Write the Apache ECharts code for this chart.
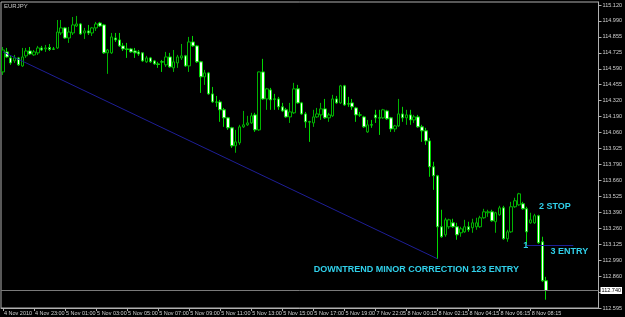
<!DOCTYPE html>
<html><head><meta charset="utf-8">
<script src="https://cdn.jsdelivr.net/npm/echarts@6/dist/echarts.min.js"></script>
<style>html,body{margin:0;padding:0;background:#000;}#c{width:625px;height:317px;}</style>
</head><body><div id="c"></div>
<script>
const symbolName = 'EURJPY';
const xTickLabels = ['4 Nov 2010','4 Nov 23:00','5 Nov 01:00','5 Nov 03:00','5 Nov 05:00','5 Nov 07:00','5 Nov 09:00','5 Nov 11:00','5 Nov 13:00','5 Nov 15:00','5 Nov 17:00','5 Nov 19:00','7 Nov 22:05','8 Nov 00:15','8 Nov 02:15','8 Nov 04:15','8 Nov 06:15','8 Nov 08:15'];
const yTickLabels = ['112.595','112.725','112.860','112.990','113.125','113.260','113.390','113.525','113.660','113.790','113.925','114.060','114.190','114.320','114.455','114.590','114.725','114.855','114.990','115.120'];
const yMin = 112.594, yMax = 115.145, yInterval = 0.13294;
const currentPrice = 112.740;
const totalSlots = 154;

const opens = [114.562,114.729,114.679,114.654,114.679,114.612,114.696,114.737,114.704,114.721,
114.762,114.754,114.766,114.754,114.762,114.887,114.929,114.845,114.887,114.945,
114.962,114.887,114.904,114.887,114.929,114.970,114.954,114.721,114.721,114.845,
114.829,114.779,114.754,114.754,114.737,114.729,114.721,114.646,114.679,114.654,
114.629,114.646,114.621,114.687,114.596,114.637,114.679,114.696,114.612,114.812,
114.779,114.646,114.521,114.554,114.379,114.312,114.312,114.246,114.179,114.096,
113.946,113.971,114.104,114.121,114.137,114.204,114.079,114.562,114.337,114.412,
114.337,114.337,114.271,114.246,114.187,114.221,114.421,114.304,114.212,114.146,
114.137,114.187,114.204,114.254,114.179,114.196,114.337,114.304,114.446,114.296,
114.304,114.262,114.204,114.187,114.062,114.121,114.204,114.179,114.179,114.237,
114.179,114.087,114.112,114.212,114.179,114.204,114.162,114.187,114.104,114.071,
113.987,113.771,113.696,113.271,113.204,113.271,113.304,113.271,113.221,113.229,
113.271,113.263,113.271,113.271,113.346,113.388,113.396,113.313,113.371,113.429,
113.171,113.229,113.438,113.454,113.463,113.421,113.304,113.304,113.363,113.146,
112.821];
const closes = [114.745,114.687,114.637,114.679,114.621,114.687,114.737,114.712,114.729,114.762,
114.745,114.762,114.750,114.752,114.895,114.929,114.845,114.895,114.954,114.962,
114.879,114.904,114.887,114.929,114.962,114.945,114.721,114.745,114.854,114.829,
114.779,114.754,114.750,114.729,114.721,114.712,114.654,114.679,114.646,114.629,
114.625,114.644,114.687,114.604,114.646,114.687,114.696,114.612,114.812,114.779,
114.646,114.521,114.554,114.379,114.312,114.310,114.246,114.179,114.096,113.946,
113.979,114.104,114.121,114.137,114.196,114.079,114.562,114.337,114.421,114.329,
114.335,114.271,114.237,114.187,114.229,114.421,114.304,114.212,114.146,114.144,
114.187,114.212,114.254,114.179,114.204,114.337,114.304,114.446,114.287,114.294,
114.271,114.204,114.202,114.104,114.121,114.119,114.179,114.177,114.246,114.171,
114.087,114.112,114.212,114.179,114.204,114.162,114.187,114.104,114.071,113.987,
113.771,113.696,113.271,113.188,113.329,113.329,113.271,113.204,113.254,113.271,
113.246,113.304,113.304,113.346,113.396,113.396,113.321,113.388,113.429,113.171,
113.229,113.438,113.488,113.546,113.421,113.229,113.329,113.363,113.138,112.821,
112.740];
const lows = [114.537,114.679,114.621,114.637,114.612,114.604,114.679,114.704,114.696,114.704,
114.737,114.729,114.737,114.745,114.754,114.870,114.837,114.804,114.870,114.937,
114.870,114.837,114.870,114.862,114.904,114.937,114.712,114.546,114.712,114.812,
114.770,114.737,114.679,114.721,114.679,114.696,114.646,114.637,114.637,114.621,
114.596,114.562,114.604,114.596,114.562,114.596,114.662,114.604,114.562,114.770,
114.637,114.387,114.454,114.371,114.304,114.271,114.146,114.104,114.079,113.929,
113.888,113.954,114.096,114.112,114.129,114.062,114.071,114.329,114.246,114.246,
114.246,114.246,114.229,114.179,114.137,114.212,114.296,114.204,114.096,113.979,
114.104,114.179,114.162,114.171,114.146,114.187,114.296,114.296,114.279,114.271,
114.246,114.146,114.187,114.096,114.054,114.096,114.137,114.037,114.171,114.162,
114.062,114.062,114.104,114.146,114.121,114.121,114.137,114.096,113.979,113.954,
113.688,113.579,113.004,113.179,113.188,113.254,113.263,113.163,113.188,113.221,
113.229,113.221,113.246,113.263,113.338,113.354,113.313,113.221,113.363,113.163,
113.146,113.221,113.429,113.446,113.413,113.121,113.296,113.296,113.129,112.812,
112.663];
const highs = [114.770,114.762,114.696,114.704,114.687,114.762,114.762,114.770,114.745,114.779,
114.779,114.787,114.795,114.770,114.995,114.995,114.937,114.937,115.020,115.029,
114.970,114.929,114.954,114.937,114.979,114.979,114.962,114.754,114.887,114.887,
114.887,114.804,114.804,114.762,114.762,114.745,114.721,114.696,114.687,114.662,
114.646,114.662,114.729,114.721,114.745,114.704,114.795,114.704,114.854,114.862,
114.787,114.654,114.579,114.562,114.437,114.362,114.329,114.262,114.187,114.104,
114.079,114.121,114.237,114.196,114.221,114.221,114.565,114.671,114.429,114.429,
114.379,114.354,114.304,114.262,114.304,114.471,114.454,114.312,114.229,114.154,
114.246,114.262,114.304,114.337,114.221,114.371,114.362,114.454,114.454,114.354,
114.337,114.271,114.229,114.196,114.162,114.162,114.246,114.246,114.254,114.246,
114.187,114.121,114.337,114.271,114.246,114.246,114.204,114.204,114.121,114.096,
114.012,113.813,113.704,113.413,113.346,113.338,113.338,113.304,113.271,113.329,
113.313,113.338,113.346,113.363,113.421,113.413,113.413,113.396,113.446,113.446,
113.246,113.479,113.513,113.554,113.479,113.438,113.388,113.379,113.371,113.188,
112.854];

// drawn objects (anchor bar index, price)
const trendLine = [[0, 114.729], [112, 113.004]];
const levelLine = [[135, 113.121], [147, 113.121]];
const notes = [
  {text: 'DOWNTREND MINOR CORRECTION 123 ENTRY', bar: 80, price: 112.911},
  {text: '2 STOP', bar: 138, price: 113.438},
  {text: '3 ENTRY', bar: 141, price: 113.069},
  {text: '1', bar: 134, price: 113.119}
];

const categories = Array.from({length: totalSlots}, (_, i) => String(i));
const candles = opens.map((o, i) => [o, closes[i], lows[i], highs[i]]);
const showX = (i) => i % 8 === 0 && (i / 8) < xTickLabels.length;

const chart = echarts.init(document.getElementById('c'), null, {renderer: 'canvas'});
chart.setOption({
  backgroundColor: '#000000',
  animation: false,
  title: {text: symbolName, left: 4, top: 3, padding: 0,
    textStyle: {color: '#c8c8c8', fontSize: 6, fontWeight: 'normal', fontFamily: 'Liberation Sans'}},
  grid: {left: 1, right: 18, top: 2, bottom: 9, show: true, borderColor: '#b0b0b0', borderWidth: 1},
  xAxis: {
    type: 'category', data: categories, boundaryGap: true,
    axisLine: {show: true, lineStyle: {color: '#b0b0b0'}},
    axisTick: {show: true, alignWithLabel: true, length: 3, interval: (i) => showX(i), lineStyle: {color: '#b0b0b0'}},
    axisLabel: {show: true, interval: (i) => showX(i), formatter: (v, i) => xTickLabels[Math.round(Number(v) / 8)] || '',
      color: '#d0d0d0', fontSize: 5.5, fontFamily: 'Liberation Sans', align: 'left', margin: 2, padding: [0, 0, 0, 1]},
    splitLine: {show: false}
  },
  yAxis: {
    type: 'value', position: 'right', min: yMin, max: yMax, interval: yInterval, scale: true,
    axisLine: {show: true, lineStyle: {color: '#b0b0b0'}},
    axisTick: {show: true, length: 3, lineStyle: {color: '#b0b0b0'}},
    axisLabel: {show: true, showMaxLabel: false, color: '#d0d0d0', fontSize: 5.5, fontFamily: 'Liberation Sans', margin: 4,
      formatter: (v) => {
        const k = Math.round((v - yMin) / yInterval);
        if (Math.abs(v - (yMin + k * yInterval)) > 1e-4) return '';
        if (Math.abs(v - currentPrice) < yInterval / 2) return '';
        return yTickLabels[k] || '';
      }},
    splitLine: {show: false}
  },
  series: [{
    type: 'candlestick',
    data: candles,
    barWidth: 3,
    itemStyle: {
      color: '#000000', color0: '#ffffff',
      borderColor: '#00b400', borderColor0: '#00d800', borderColorDoji: '#00b400', borderWidth: 1
    },
    markLine: {
      silent: true, symbol: ['none', 'none'], animation: false,
      label: {show: false},
      data: [
        [{coord: trendLine[0], lineStyle: {color: '#1e1e96', width: 1, type: 'solid'}}, {coord: trendLine[1]}],
        [{coord: levelLine[0], lineStyle: {color: '#1e1e96', width: 1, type: 'solid'}}, {coord: levelLine[1]}],
        {yAxis: currentPrice, lineStyle: {color: '#7a7a7a', width: 1, type: 'solid'},
          label: {show: true, position: 'end', distance: 2, formatter: currentPrice.toFixed(3),
            backgroundColor: '#ffffff', color: '#000000', fontSize: 5.5, fontFamily: 'Liberation Sans', padding: [1, 1, 0, 1]}}
      ]
    },
    markPoint: {
      silent: true, animation: false,
      data: notes.map(n => ({
        coord: [n.bar, n.price], symbol: 'rect', symbolSize: 1,
        itemStyle: {color: 'rgba(0,0,0,0)'},
        label: {show: true, position: 'right', distance: 0, formatter: n.text,
          color: '#30d0ea', fontSize: 9, fontWeight: 'bold', fontFamily: 'Liberation Sans'}
      }))
    }
  }]
});
</script>
</body></html>
